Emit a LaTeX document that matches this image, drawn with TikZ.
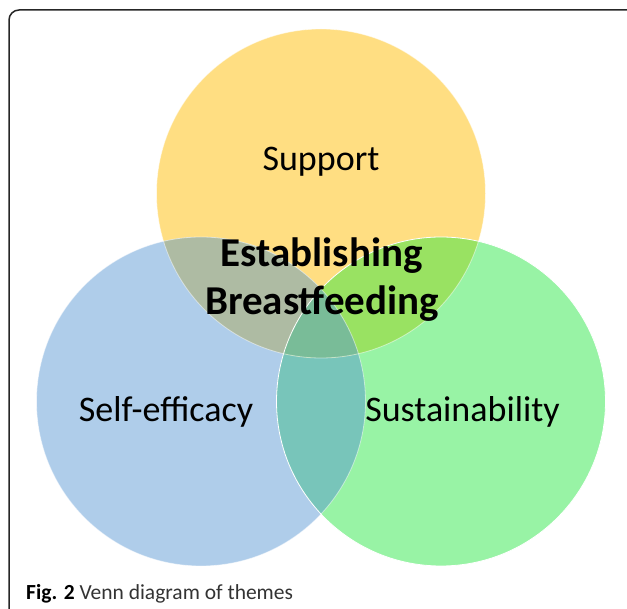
\documentclass[tikz,border=0pt]{standalone}
\usepackage{fontspec}
\setmainfont{Carlito}
\definecolor{supcol}{RGB}{255,222,130}
\definecolor{effcol}{RGB}{175,205,234}
\definecolor{suscol}{RGB}{152,243,165}
\definecolor{supeffcol}{RGB}{174,187,163}
\definecolor{supsuscol}{RGB}{153,226,98}
\definecolor{effsuscol}{RGB}{120,197,186}
\definecolor{allcol}{RGB}{121,188,152}

\begin{document}
\begin{tikzpicture}[x=1pt,y=-1pt,every node/.style={inner sep=0pt},
  theme/.style={font=\fontsize{36}{43}\selectfont,anchor=base},
  core/.style={font=\fontsize{41}{48}\selectfont\bfseries,anchor=base},
  rim/.style={draw=white,line width=0.8pt}]
 \useasboundingbox (0,0) rectangle (627,609);

 \fill[supcol] (321,193.5) circle [radius=164.5pt];
 \fill[effcol] (201,401.5) circle [radius=164.5pt];
 \fill[suscol] (441,401.5) circle [radius=164.5pt];

 \begin{scope}
  \clip (201,401.5) circle [radius=164.5pt];
  \fill[effsuscol] (441,401.5) circle [radius=164.5pt];
 \end{scope}
 \begin{scope}
  \clip (321,193.5) circle [radius=164.5pt];
  \fill[supeffcol] (201,401.5) circle [radius=164.5pt];
  \fill[supsuscol] (441,401.5) circle [radius=164.5pt];
  \clip (201,401.5) circle [radius=164.5pt];
  \fill[allcol] (441,401.5) circle [radius=164.5pt];
 \end{scope}

 \draw[rim,draw opacity=0.5] (321,193.5) circle [radius=164.5pt];
 \draw[rim,draw opacity=0.5] (201,401.5) circle [radius=164.5pt];
 \draw[rim] (441,401.5) circle [radius=164.5pt];

 \draw (321,171) node[theme] (sup) {Support};
 \draw (166,422) node[theme] (eff) {Self-efficacy};
 \draw (462.5,422) node[theme] (sus) {Sustainability};

 \draw (321.5,267) node[core] (est) {Establishing};
 \draw (322,315) node[core] (bre) {Breastfeeding};

 \draw (26,599) node[anchor=base west,font=\fontsize{21.5}{24}\selectfont,
   text=black!80] (cap) {\textbf{\color{black}Fig. 2} Venn diagram of themes};

 \draw[line width=1.5pt,rounded corners=10pt,black!85]
   (9,609) -- (9,10) -- (627,10);
\end{tikzpicture}
\end{document}
